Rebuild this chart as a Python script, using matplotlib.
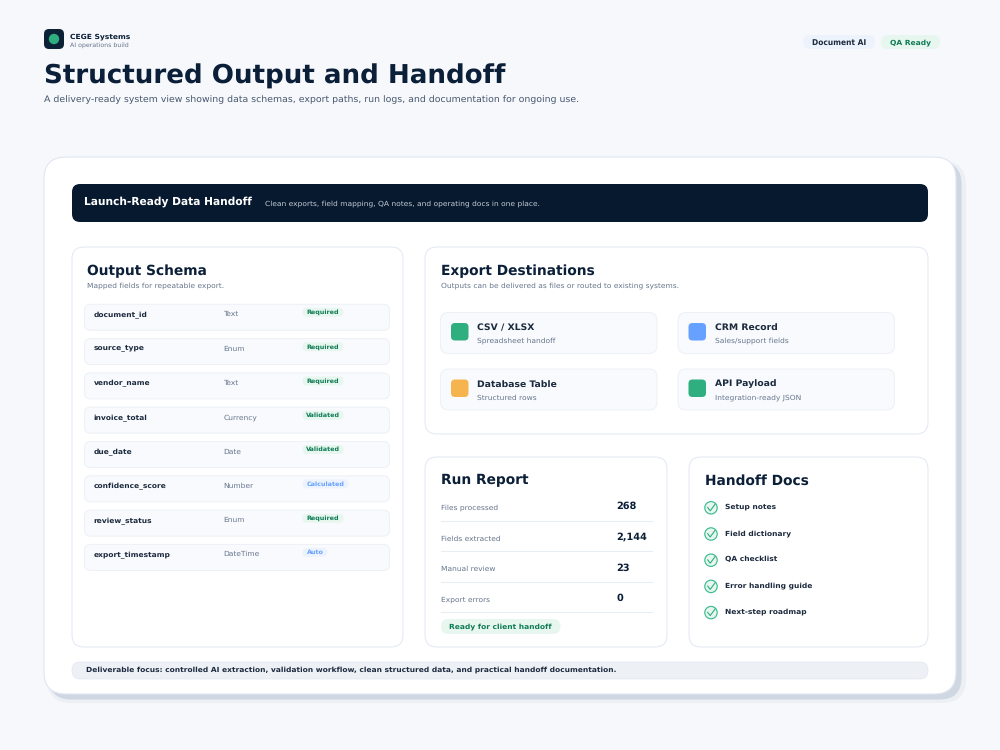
import matplotlib
matplotlib.use('Agg')
import matplotlib.pyplot as plt
from matplotlib.patches import FancyBboxPatch, Circle

plt.rcParams['font.family'] = 'DejaVu Sans'
plt.rcParams['text.hinting'] = 'no_hinting'

NAVY = '#0b1f38'
INK = '#1c2a3e'
GREY = '#66758c'
LINE = '#e1e7f2'
SOFT = '#f8fafd'
GREEN = '#2fae7f'
GREEN_TXT = '#0f7a55'
GREEN_BG = '#e7f7f0'
BLUE = '#66a1ff'
ORANGE = '#f6b44f'

# data
fields = ['document_id', 'source_type', 'vendor_name', 'invoice_total',
          'due_date', 'confidence_score', 'review_status', 'export_timestamp']
field_types = ['Text', 'Enum', 'Text', 'Currency', 'Date', 'Number', 'Enum', 'DateTime']
field_status = ['Required', 'Required', 'Required', 'Validated',
                'Validated', 'Calculated', 'Required', 'Auto']

dest_names = ['CSV / XLSX', 'CRM Record', 'Database Table', 'API Payload']
dest_notes = ['Spreadsheet handoff', 'Sales/support fields', 'Structured rows', 'Integration-ready JSON']
dest_colors = [GREEN, BLUE, ORANGE, GREEN]

run_labels = ['Files processed', 'Fields extracted', 'Manual review', 'Export errors']
run_values = ['268', '2,144', '23', '0']

doc_items = ['Setup notes', 'Field dictionary', 'QA checklist', 'Error handling guide', 'Next-step roadmap']

fig = plt.figure(figsize=(10, 7.5), dpi=100, facecolor='#f6f8fc')
ax = fig.add_axes([0, 0, 1, 1])
ax.set_xlim(0, 1000)
ax.set_ylim(750, 0)
ax.axis('off')


def box(x0, y0, x1, y1, r, fc, ec='none', lw=1.0, z=2, alpha=None):
    p = FancyBboxPatch((x0 + r, y0 + r), x1 - x0 - 2 * r, y1 - y0 - 2 * r,
                       boxstyle=f'round,pad={r},rounding_size={r}',
                       fc=fc, ec=ec, lw=lw, zorder=z, alpha=alpha)
    ax.add_patch(p)


def txt(x, y, s, size, color=INK, bold=False, ha='left'):
    ax.text(x, y, s, fontsize=size, color=color, ha=ha, va='center',
            fontweight='bold' if bold else 'normal', zorder=6)


# header
box(44, 29, 64, 49, 5, '#0d2136', z=3)
ax.add_patch(Circle((54, 39), 5.2, fc=GREEN, ec='none', zorder=4))
txt(70, 36.5, 'CEGE Systems', 5.4, NAVY, True)
txt(70, 45.5, 'AI operations build', 4.5, GREY)
txt(44, 76.5, 'Structured Output and Handoff', 18.85, NAVY, True)
txt(44, 100, 'A delivery-ready system view showing data schemas, export paths, run logs, and documentation for ongoing use.', 6.76, '#46566c')

box(803, 35, 875, 49, 7, '#edf3fd')
txt(839.5, 42.5, 'Document AI', 5.45, INK, True, 'center')
box(881, 35, 940, 49, 7, GREEN_BG)
txt(910.5, 42.5, 'QA Ready', 5.4, GREEN_TXT, True, 'center')

# main card with soft shadow
box(47, 161, 966, 703, 24, '#e3e7ee', z=1, alpha=0.5)
box(49, 162, 961.5, 699.5, 22, '#cfd7e2', z=1)
box(44, 157, 956, 694, 22, 'white', LINE, 0.85, z=2)

# banner
box(72, 184, 928, 222, 8, '#07192f', z=3)
txt(84.5, 201.3, 'Launch-Ready Data Handoff', 7.65, 'white', True)
txt(265.3, 203.4, 'Clean exports, field mapping, QA notes, and operating docs in one place.', 5.37, '#c3ccd8')

# schema panel
box(72, 247, 403, 647, 12, 'white', LINE, 0.7, z=3)
txt(87.2, 271, 'Output Schema', 9.87, NAVY, True)
txt(87.2, 286, 'Mapped fields for repeatable export.', 5.38, GREY)

status_style = {'Required': (GREEN_BG, GREEN_TXT), 'Validated': (GREEN_BG, GREEN_TXT),
                'Calculated': ('#edf3fd', BLUE), 'Auto': ('#edf3fd', BLUE)}
status_w = {'Required': 41, 'Validated': 41, 'Calculated': 46, 'Auto': 25}
for i, (name, kind, status) in enumerate(zip(fields, field_types, field_status)):
    top = 304.3 + i * 34.3
    box(84.5, top, 389.5, top + 26, 6, SOFT, '#edf0f6', 0.7, z=4)
    txt(93.8, top + 10, name, 5.4, INK, True)
    txt(223.2, top + 10, kind, 5.4, GREY)
    bg, fg = status_style[status]
    w = status_w[status]
    box(302.5, top + 3.5, 302.5 + w, top + 12.5, 4.5, bg, z=5)
    txt(302.5 + w / 2, top + 8.2, status, 4.55, fg, True, 'center')

# export panel
box(425, 247, 928, 434, 12, 'white', LINE, 0.7, z=3)
txt(440.6, 271, 'Export Destinations', 9.87, NAVY, True)
txt(440.6, 286, 'Outputs can be delivered as files or routed to existing systems.', 5.38, GREY)
for i, (name, note, col) in enumerate(zip(dest_names, dest_notes, dest_colors)):
    x = 440.5 + (i % 2) * 237.5
    y = 312.5 + (i // 2) * 56.5
    box(x, y, x + 216.5, y + 41, 8, SOFT, '#edf0f6', 0.7, z=4)
    box(x + 10.5, y + 10.5, x + 28, y + 28, 4, col, z=5)
    txt(x + 36.8, y + 15, name, 6.7, INK, True)
    txt(x + 36.8, y + 28.5, note, 5.4, GREY)

# run report
box(425, 457, 667, 647, 12, 'white', LINE, 0.7, z=3)
txt(440.6, 480.5, 'Run Report', 9.87, NAVY, True)
for i, (label, value) in enumerate(zip(run_labels, run_values)):
    y = 507.5 + i * 30.6
    txt(440.6, y + 0.5, label, 5.38, GREY)
    txt(616.4, y - 1, value, 7.05, NAVY, True)
    ax.plot([441, 652], [y + 13, y + 13], color='#e8edf4', lw=0.8, zorder=5)
box(441, 619, 560.5, 634, 7.5, GREEN_BG, z=5)
txt(500.5, 626.7, 'Ready for client handoff', 5.4, GREEN_TXT, True, 'center')

# handoff docs
box(689, 457, 928, 647, 12, 'white', LINE, 0.7, z=3)
txt(704.6, 480.5, 'Handoff Docs', 9.87, NAVY, True)
for i, item in enumerate(doc_items):
    y = 507.8 + i * 26.2
    ax.add_patch(Circle((711, y), 6.2, fc=GREEN_BG, ec='#3dbb8f', lw=0.85, zorder=5))
    ax.plot([707.7, 710.2, 715], [y - 0.3, y + 3, y - 3.5], color=GREEN, lw=0.8, zorder=6)
    txt(725, y - 0.8, item, 5.4, INK, True)

# footer
box(72, 662, 928, 679, 8, '#edf1f6', '#e3e8f0', 0.5, z=3)
txt(86, 669.7, 'Deliverable focus: controlled AI extraction, validation workflow, clean structured data, and practical handoff documentation.', 5.36, INK, True)

fig.savefig('out.png', dpi=100, facecolor=fig.get_facecolor())
